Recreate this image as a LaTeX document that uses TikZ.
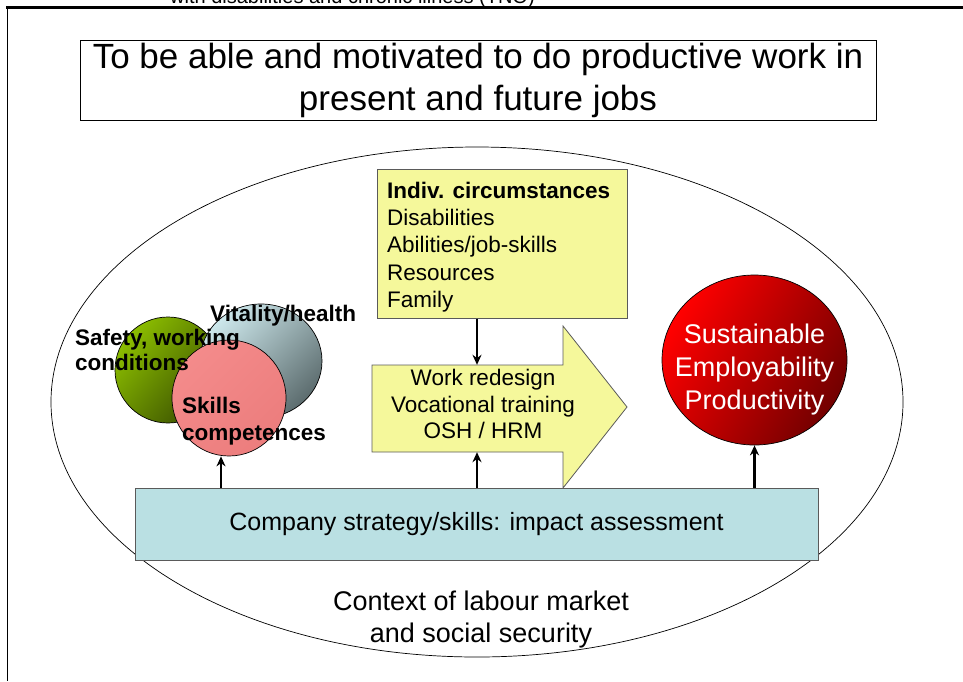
\documentclass[tikz,border=0pt]{standalone}
\usepackage{fontspec}
\setmainfont{Liberation Sans}
\usetikzlibrary{arrows.meta,shapes.geometric}
\definecolor{boxyellow}{RGB}{245,248,155}
\definecolor{boxcyan}{RGB}{186,224,227}
\definecolor{pinkfill}{RGB}{244,139,139}
\definecolor{pinkdark}{RGB}{236,125,125}
\definecolor{greenlight}{RGB}{140,190,0}
\definecolor{greendark}{RGB}{58,80,0}
\definecolor{graylight}{RGB}{205,232,236}
\definecolor{graydark}{RGB}{92,108,110}
\definecolor{redlight}{RGB}{255,0,0}
\definecolor{reddark}{RGB}{115,0,0}
\definecolor{edgegray}{RGB}{90,90,90}
\begin{document}
\begin{tikzpicture}[x=1pt,y=-1pt,
  conn/.style={line width=2.2pt,-{Stealth[length=10pt,width=9pt]}},
  ball/.style={ellipse,draw=black,line width=0.7pt,inner sep=0pt},
  boldlabel/.style={font=\fontsize{22.5}{25}\selectfont\bfseries,align=left,inner sep=0pt},
  plain/.style={font=\fontsize{22.5}{26.5}\selectfont,align=center,inner sep=0pt}]
\useasboundingbox (0,0) rectangle (963,681);
% frame
\draw[line width=3pt] (6,7) -- (963,7);
\draw[line width=1pt] (7,7) -- (7,681);
\node[anchor=base west,inner sep=0pt,font=\fontsize{20}{24}\selectfont] (cut) at (170,3) {with disabilities and chronic illness (TNO)};
% title
\node[draw=black,line width=1pt,minimum width=796,minimum height=80,inner sep=0pt,
  align=center,font=\fontsize{35}{42}\selectfont] (title) at (478,80)
  {To be able and motivated to do productive work in\\present and future jobs};
% context ellipse
\node[ellipse,draw=black,line width=0.7pt,minimum width=852,minimum height=510,inner sep=0pt] (context) at (477,402) {};
\node[plain,font=\fontsize{27}{32}\selectfont] (contexttext) at (481,620) {Context of labour market\\and social security};
% indiv box
\node[draw=edgegray,line width=1pt,fill=boxyellow,minimum width=250,minimum height=149,inner sep=0pt] (indiv) at (502,243.5) {};
\node[anchor=west,align=left,inner sep=0pt,font=\fontsize{22.5}{27.2}\selectfont] (indivtext) at (387,247)
  {\textbf{Indiv. circumstances}\\Disabilities\\Abilities/job-skills\\Resources\\Family};
% block arrow
\draw[draw=edgegray,line width=0.8pt,fill=boxyellow] (372,365) -- (563,365) -- (563,326) -- (627,407) -- (563,488) -- (563,452) -- (372,452) -- cycle;
\node[minimum width=191,minimum height=87,inner sep=0pt] (body) at (467.5,408.5) {};
\node[plain] (bodytext) at (483,404) {Work redesign\\Vocational training\\OSH / HRM};
% company box
\node[draw=edgegray,line width=1pt,fill=boxcyan,minimum width=683,minimum height=72,inner sep=0pt,
  font=\fontsize{25}{30}\selectfont] (company) at (476.5,524) {Company strategy/skills: impact assessment};
% circles
\node[ball,minimum width=106,minimum height=106,top color=greenlight,bottom color=greendark,shading angle=50] (safety) at (168,370) {};
\node[ball,minimum width=122,minimum height=114,top color=graylight,bottom color=graydark,shading angle=45] (vitality) at (261,361) {};
\node[ball,minimum width=114,minimum height=116,top color=pinkfill,bottom color=pinkdark,shading angle=45] (skills) at (229,398) {};
\node[boldlabel,anchor=west] (vitalitytext) at (210,316) {Vitality/health};
\node[boldlabel,anchor=west] (safetytext) at (75,349.5) {Safety, working\\conditions};
\node[boldlabel,anchor=west,font=\fontsize{22.5}{27}\selectfont\bfseries] (skillstext) at (182,421.5) {Skills\\competences};
% red circle
\node[ball,minimum width=185,minimum height=170,top color=redlight,bottom color=reddark,shading angle=60] (result) at (754.5,360) {};
\node[text=white,align=center,inner sep=0pt,font=\fontsize{27}{33}\selectfont] (resulttext) at (754.5,370) {Sustainable\\Employability\\Productivity};
% connectors
\coordinate (ka) at (477,0);
\coordinate (kb) at (221,0);
\draw[conn] (indiv.south -| ka) -- (body.north -| ka);
\draw[conn] (company.north -| ka) -- (body.south -| ka);
\draw[conn] (company.north -| result) -- (result.south);
\draw[conn] (company.north -| kb) -- (kb |- skills.south);
\end{tikzpicture}
\end{document}
